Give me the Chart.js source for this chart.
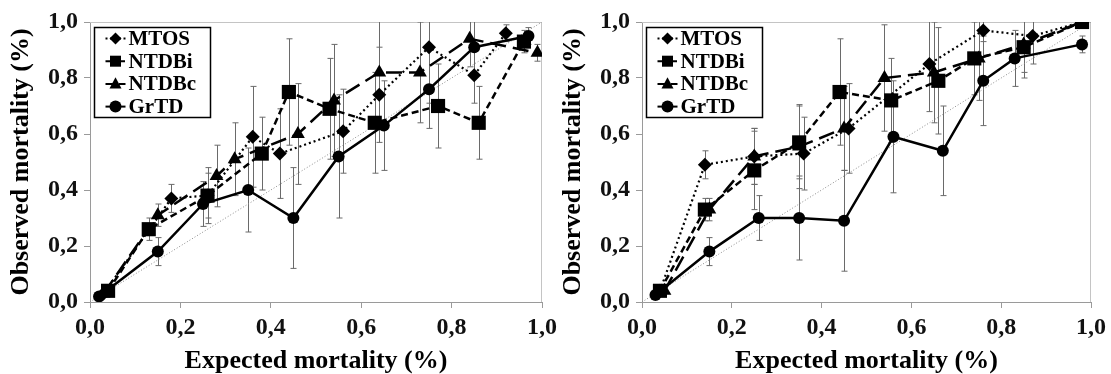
<!DOCTYPE html>
<html>
<head>
<meta charset="utf-8">
<script src="https://cdn.jsdelivr.net/npm/chart.js@4.4.0/dist/chart.umd.min.js"></script>
<style>
  body { margin: 0; background: #fff; width: 1111px; height: 374px; overflow: hidden; position: relative; }
  canvas { position: absolute; top: 0; }
  #left { left: 0; width: 562px; height: 374px; }
  #right { left: 552px; width: 559px; height: 374px; }
</style>
</head>
<body>
<canvas id="left" width="562" height="374"></canvas>
<canvas id="right" width="559" height="374"></canvas>
<script>
// axis ticks
const tickValues = [0, 0.2, 0.4, 0.6, 0.8, 1.0];
const seriesNames = ['MTOS', 'NTDBi', 'NTDBc', 'GrTD'];

// left panel: expected (x), observed (y), error (+/-)
const mtosX_L = [0.03, 0.18, 0.26, 0.36, 0.42, 0.56, 0.64, 0.75, 0.85, 0.92];
const mtosY_L = [0.03, 0.37, 0.38, 0.59, 0.53, 0.61, 0.74, 0.91, 0.81, 0.96];
const mtosE_L = [0.01, 0.05, 0.08, 0.18, 0.16, 0.15, 0.17, 0.20, 0.10, 0.03];

const ntdbiX_L = [0.04, 0.13, 0.26, 0.38, 0.44, 0.53, 0.63, 0.77, 0.86, 0.96];
const ntdbiY_L = [0.04, 0.26, 0.38, 0.53, 0.75, 0.69, 0.64, 0.70, 0.64, 0.93];
const ntdbiE_L = [0.01, 0.04, 0.10, 0.13, 0.19, 0.18, 0.18, 0.15, 0.13, 0.04];

const ntdbcX_L = [0.03, 0.15, 0.28, 0.32, 0.46, 0.54, 0.64, 0.73, 0.84, 0.99];
const ntdbcY_L = [0.03, 0.31, 0.45, 0.51, 0.60, 0.72, 0.82, 0.82, 0.94, 0.89];
const ntdbcE_L = [0.01, 0.04, 0.11, 0.13, 0.18, 0.20, 0.20, 0.18, 0.10, 0.03];

const grtdX_L = [0.02, 0.15, 0.25, 0.35, 0.45, 0.55, 0.65, 0.75, 0.85, 0.97];
const grtdY_L = [0.02, 0.18, 0.35, 0.40, 0.30, 0.52, 0.63, 0.76, 0.91, 0.95];
const grtdE_L = [0.01, 0.05, 0.08, 0.15, 0.18, 0.22, 0.16, 0.14, 0.10, 0.03];

// right panel
const mtosX_R = [0.04, 0.14, 0.25, 0.36, 0.46, 0.64, 0.76, 0.87, 0.98];
const mtosY_R = [0.04, 0.49, 0.52, 0.53, 0.62, 0.85, 0.97, 0.95, 1.00];
const mtosE_R = [0.01, 0.05, 0.10, 0.13, 0.16, 0.17, 0.04, 0.10, 0.01];

const ntdbiX_R = [0.04, 0.14, 0.25, 0.35, 0.44, 0.555, 0.66, 0.74, 0.85, 0.98];
const ntdbiY_R = [0.04, 0.33, 0.47, 0.57, 0.75, 0.72, 0.79, 0.87, 0.91, 1.00];
const ntdbiE_R = [0.01, 0.04, 0.14, 0.13, 0.19, 0.15, 0.19, 0.13, 0.11, 0.01];

const ntdbcX_R = [0.05, 0.15, 0.25, 0.35, 0.45, 0.54, 0.65, 0.75, 0.85, 0.98];
const ntdbcY_R = [0.04, 0.33, 0.52, 0.555, 0.62, 0.80, 0.82, 0.87, 0.92, 1.00];
const ntdbcE_R = [0.01, 0.04, 0.10, 0.15, 0.15, 0.19, 0.18, 0.15, 0.10, 0.01];

const grtdX_R = [0.03, 0.15, 0.26, 0.35, 0.45, 0.56, 0.67, 0.76, 0.83, 0.98];
const grtdY_R = [0.025, 0.18, 0.30, 0.30, 0.29, 0.59, 0.54, 0.79, 0.87, 0.92];
const grtdE_R = [0.01, 0.05, 0.08, 0.15, 0.18, 0.20, 0.16, 0.16, 0.10, 0.03];

const serif = "'Liberation Serif', 'Times New Roman', serif";

// style per series: dash, marker, radius
const styles = {
  MTOS:  { dash: [2, 3],  point: 'rectRot',  r: 7, width: 2.2 },
  NTDBi: { dash: [7, 4],  point: 'rect',     r: 10, width: 2.5 },
  NTDBc: { dash: [16, 7], point: 'triangle', r: 8, width: 2.5 },
  GrTD:  { dash: [],      point: 'circle',   r: 6, width: 2.5 }
};

function pts(xs, ys) {
  return xs.map((x, i) => ({ x: x, y: ys[i] }));
}

function series(name, xs, ys, errs) {
  const s = styles[name];
  return {
    label: name,
    data: pts(xs, ys),
    err: errs,
    showLine: true,
    borderColor: '#000',
    backgroundColor: '#000',
    borderWidth: s.width,
    borderDash: s.dash,
    pointStyle: s.point,
    pointRadius: s.r,
    pointBorderWidth: 0,
    pointBackgroundColor: '#000',
    tension: 0
  };
}

// errors bars, drawn under the markers
const errorBars = {
  id: 'errorBars',
  beforeDatasetsDraw(chart) {
    const { ctx, chartArea: a, scales: { x, y } } = chart;
    ctx.save();
    ctx.beginPath();
    ctx.rect(a.left, a.top, a.right - a.left, a.bottom - a.top);
    ctx.clip();
    ctx.strokeStyle = '#6a6a6a';
    ctx.lineWidth = 1;
    chart.data.datasets.forEach(ds => {
      if (!ds.err) return;
      ds.data.forEach((p, i) => {
        const e = ds.err[i];
        if (!e) return;
        const px = Math.round(x.getPixelForValue(p.x)) + 0.5;
        const top = y.getPixelForValue(p.y + e);
        const bot = y.getPixelForValue(p.y - e);
        ctx.beginPath();
        ctx.moveTo(px, top); ctx.lineTo(px, bot);
        ctx.moveTo(px - 3, top); ctx.lineTo(px + 3, top);
        ctx.moveTo(px - 3, bot); ctx.lineTo(px + 3, bot);
        ctx.stroke();
      });
    });
    ctx.restore();
  }
};

// light frame round the plot area
const frame = {
  id: 'frame',
  beforeDatasetsDraw(chart) {
    const { ctx, chartArea: a } = chart;
    ctx.save();
    ctx.strokeStyle = '#c4c4c4';
    ctx.lineWidth = 1;
    ctx.beginPath();
    ctx.moveTo(a.left, a.top + 0.5); ctx.lineTo(a.right - 0.5, a.top + 0.5); ctx.lineTo(a.right - 0.5, a.bottom);
    ctx.stroke();
    ctx.restore();
  }
};

function marker(ctx, style, x, y, r) {
  ctx.beginPath();
  if (style === 'circle') {
    ctx.arc(x, y, r, 0, Math.PI * 2);
  } else if (style === 'rect') {
    ctx.rect(x - r, y - r, 2 * r, 2 * r);
  } else if (style === 'triangle') {
    ctx.moveTo(x, y - r * 1.1);
    ctx.lineTo(x + r, y + r * 0.75);
    ctx.lineTo(x - r, y + r * 0.75);
    ctx.closePath();
  } else {
    ctx.moveTo(x, y - r); ctx.lineTo(x + r, y); ctx.lineTo(x, y + r); ctx.lineTo(x - r, y);
    ctx.closePath();
  }
  ctx.fill();
}

const boxLegend = {
  id: 'boxLegend',
  afterDraw(chart) {
    const { ctx, chartArea: a } = chart;
    const bx = a.left + 4.5, by = a.top + 5.5, bw = 116, bh = 90;
    ctx.save();
    ctx.fillStyle = '#fff';
    ctx.fillRect(bx, by, bw, bh);
    ctx.strokeStyle = '#000';
    ctx.lineWidth = 1.5;
    ctx.strokeRect(bx, by, bw, bh);
    seriesNames.forEach((name, i) => {
      const s = styles[name];
      const yy = by + 11 + i * 22.7;
      ctx.beginPath();
      ctx.setLineDash(s.dash.length ? [s.dash[0] / 2 + 1, s.dash[1] / 2 + 1] : []);
      ctx.lineWidth = 2;
      ctx.strokeStyle = '#000';
      ctx.moveTo(bx + 11, yy); ctx.lineTo(bx + 31, yy);
      ctx.stroke();
      ctx.setLineDash([]);
      ctx.fillStyle = '#000';
      marker(ctx, s.point, bx + 21, yy, name === 'NTDBi' ? 5.5 : 6);
      ctx.font = 'bold 21px ' + serif;
      ctx.textBaseline = 'middle';
      ctx.textAlign = 'left';
      ctx.fillText(name, bx + 34, yy + 1);
    });
    ctx.restore();
  }
};

function axis(title, isX) {
  return {
    type: 'linear',
    min: 0,
    max: 1,
    afterBuildTicks: s => { s.ticks = tickValues.map(v => ({ value: v })); },
    ticks: {
      padding: isX ? 5 : 6,
      color: '#111',
      font: { family: serif, size: 24, weight: 'bold' },
      callback: v => v.toFixed(1).replace('.', ',')
    },
    grid: { drawOnChartArea: false, drawTicks: true, tickLength: 6, color: '#9a9a9a' },
    border: { color: '#9a9a9a' },
    title: {
      display: true,
      text: title,
      color: '#000',
      font: { family: serif, size: 26, weight: 'bold', lineHeight: 1 },
      padding: isX ? { top: 0, bottom: 0 } : { top: 8, bottom: 0 }
    },
    afterFit: s => { if (isX) s.height = 72; else s.width = 90; }
  };
}

function makeChart(id, sets) {
  new Chart(document.getElementById(id), {
    type: 'scatter',
    data: {
      datasets: sets.concat([{
        data: [{ x: 0, y: 0 }, { x: 1, y: 1 }],
        showLine: true,
        borderColor: '#8a8a8a',
        borderWidth: 1,
        borderDash: [1, 2],
        pointRadius: 0
      }])
    },
    options: {
      responsive: false,
      animation: false,
      layout: { padding: { left: 0, right: 0, top: 22, bottom: 0 } },
      plugins: { legend: { display: false }, tooltip: { enabled: false } },
      scales: {
        x: axis('Expected mortality (%)', true),
        y: axis('Observed mortality (%)', false)
      }
    },
    plugins: [frame, errorBars, boxLegend]
  });
}

makeChart('left', [
  series('MTOS', mtosX_L, mtosY_L, mtosE_L),
  series('NTDBi', ntdbiX_L, ntdbiY_L, ntdbiE_L),
  series('NTDBc', ntdbcX_L, ntdbcY_L, ntdbcE_L),
  series('GrTD', grtdX_L, grtdY_L, grtdE_L)
]);

makeChart('right', [
  series('MTOS', mtosX_R, mtosY_R, mtosE_R),
  series('NTDBi', ntdbiX_R, ntdbiY_R, ntdbiE_R),
  series('NTDBc', ntdbcX_R, ntdbcY_R, ntdbcE_R),
  series('GrTD', grtdX_R, grtdY_R, grtdE_R)
]);
</script>
</body>
</html>
